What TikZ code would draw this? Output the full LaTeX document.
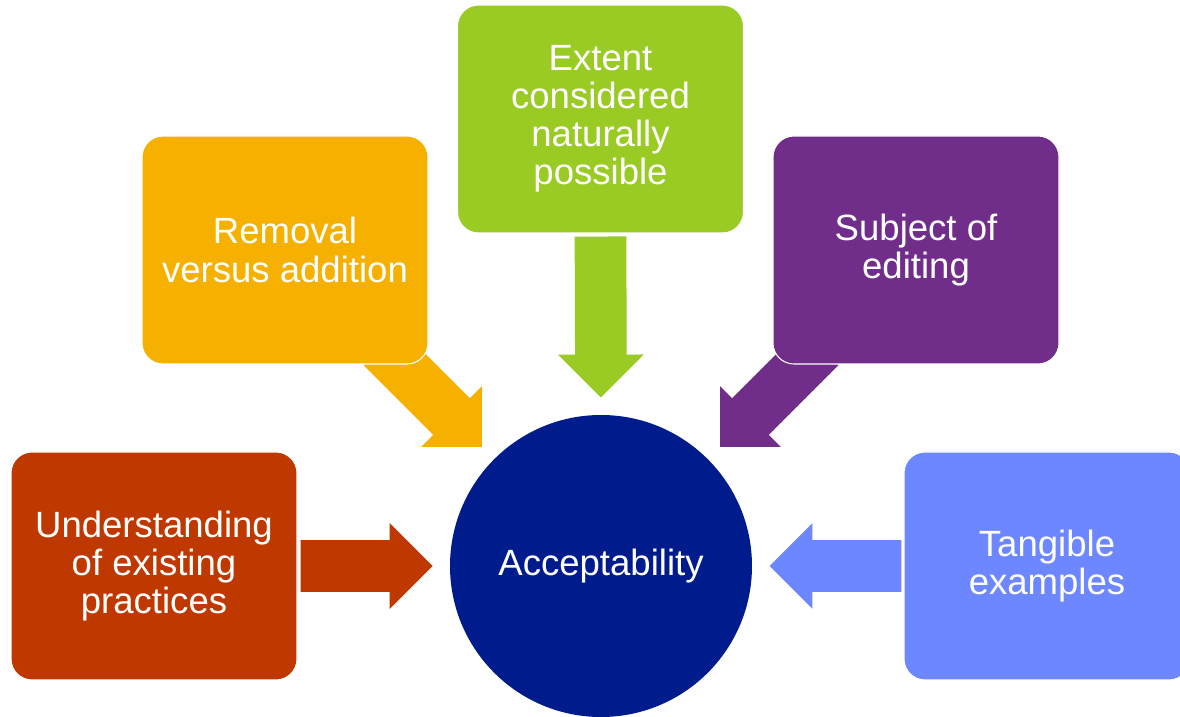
\documentclass[tikz,border=0pt]{standalone}
\usepackage{fontspec}
\setmainfont{Liberation Sans}
\usetikzlibrary{calc,backgrounds}
\definecolor{accblue}{RGB}{0,28,140}
\definecolor{extgreen}{RGB}{154,202,36}
\definecolor{remorange}{RGB}{245,176,0}
\definecolor{subjpurple}{RGB}{112,46,138}
\definecolor{undred}{RGB}{190,56,0}
\definecolor{tangblue}{RGB}{108,135,255}
% half widths of shaft and head, length of head
\def\shaftw{14.7pt}
\def\headw{24.4pt}
\def\headl{24.4pt}
% block arrow: colour, tail, tip
\newcommand\blockarrow[3]{%
  \coordinate (ba) at ($(#3)!\headl!(#2)$);
  \fill[#1] ($(#2)!\shaftw!90:(#3)$) -- ($(ba)!\shaftw!90:(#3)$)
    -- ($(ba)!\headw!90:(#3)$) -- (#3) -- ($(ba)!\headw!-90:(#3)$)
    -- ($(ba)!\shaftw!-90:(#3)$) -- ($(#2)!\shaftw!-90:(#3)$) -- cycle;}

\begin{document}
\begin{tikzpicture}[
    every node/.style={text=white,align=center,font=\fontsize{20.8}{21.7}\selectfont},
    factor/.style={rectangle,rounded corners=0.42cm,draw=white,line width=0.6pt,
      minimum width=5.72cm,minimum height=4.56cm,inner sep=0pt}]
  \useasboundingbox (0,0) rectangle (23.6,14.34);

  \node[circle,fill=accblue,minimum size=6.04cm] (acc) at (12.02,3.02) {\raisebox{-2pt}{Acceptability}};

  \node[factor,fill=extgreen] (ext) at (12.01,11.96) {Extent\\considered\\naturally\\possible};
  \node[factor,fill=remorange] (rem) at (5.70,9.34) {Removal\\versus addition};
  \node[factor,fill=subjpurple] (subj) at (18.32,9.34) {Subject of\\editing};
  \node[factor,fill=undred] (und) at (3.08,3.02) {Understanding\\of existing\\practices};
  \node[factor,fill=tangblue] (tang) at (20.94,3.02) {Tangible\\examples};

  % arrow ends
  \coordinate (ext-a) at ($(ext.south)+(0,-0.06)$);
  \coordinate (ext-b) at ($(acc)+(90:3.37)$);
  \coordinate (rem-a) at ($(acc)+(135:6.2)$);
  \coordinate (rem-b) at ($(acc)+(135:3.37)$);
  \coordinate (subj-a) at ($(acc)+(45:6.2)$);
  \coordinate (subj-b) at ($(acc)+(45:3.37)$);
  \coordinate (und-a) at ($(und.east)+(0.06,0)$);
  \coordinate (und-b) at ($(acc)+(180:3.37)$);
  \coordinate (tang-a) at ($(tang.west)+(-0.04,0)$);
  \coordinate (tang-b) at ($(acc)+(0:3.37)$);

  \begin{scope}[on background layer]
    \blockarrow{extgreen}{ext-a}{ext-b}
    \blockarrow{remorange}{rem-a}{rem-b}
    \blockarrow{subjpurple}{subj-a}{subj-b}
    \blockarrow{undred}{und-a}{und-b}
    \blockarrow{tangblue}{tang-a}{tang-b}
  \end{scope}
\end{tikzpicture}
\end{document}
